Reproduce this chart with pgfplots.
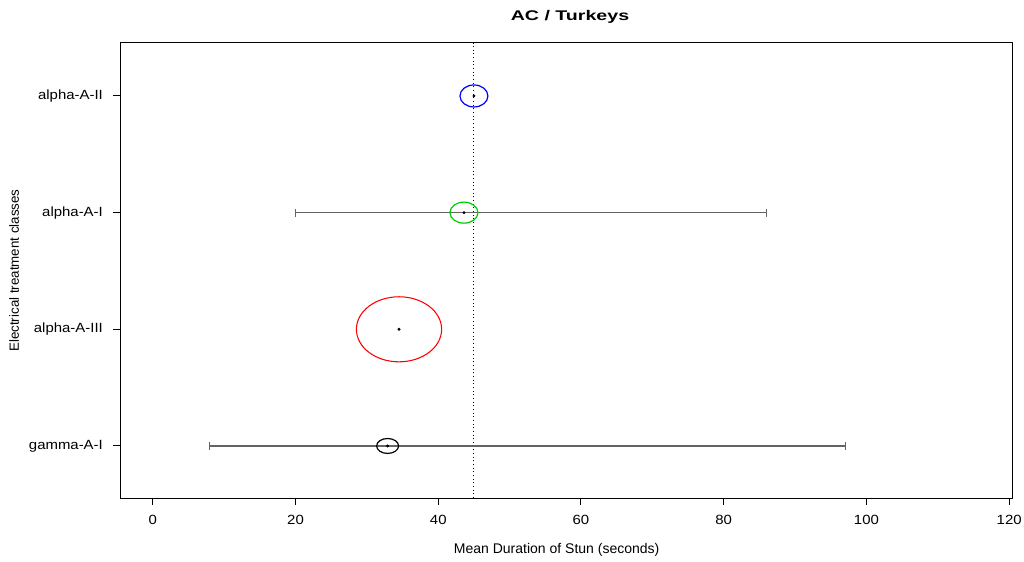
\documentclass[border=0pt]{standalone}
\usepackage{fontspec}
\setmainfont{Liberation Sans}
\usepackage{pgfplots}
\pgfplotsset{compat=1.18}
\definecolor{rblue}{RGB}{0,0,255}
\definecolor{rgreen}{RGB}{0,205,0}
\definecolor{rred}{RGB}{255,0,0}
\definecolor{ebar}{RGB}{100,100,100}
\begin{document}
\begin{tikzpicture}
\path[use as bounding box] (0pt,0pt) rectangle (768pt,420.75pt);
\begin{axis}[
  at={(90pt,47.25pt)}, anchor=south west,
  scale only axis, width=669pt, height=341.25pt,
  xmin=-4.6, xmax=120.4, ymin=0.554, ymax=4.454,
  xtick={0,20,...,120}, ytick={1,2,3,4},
  yticklabels={gamma-A-I,alpha-A-III,alpha-A-I,alpha-A-II},
  xtick pos=bottom, ytick pos=left, tick align=outside,
  major tick length=5pt,
  axis line style={line width=0.75pt},
  every tick/.style={black, line width=0.75pt},
  /pgf/number format/assume math mode=true,
  tick label style={font=\fontsize{10}{12}\selectfont, xscale=1.12},
  xticklabel style={yshift=-4.5pt},
  yticklabel style={xshift=-3.5pt},
  title={\bfseries AC / Turkeys},
  every axis title/.style={at={(axis description cs:0.5,1.0571)}, anchor=center, xshift=3pt, font=\fontsize{10.5}{12}\selectfont, xscale=1.4},
  xlabel={Mean Duration of Stun (seconds)},
  ylabel={Electrical treatment classes},
  every axis x label/.style={at={(axis description cs:0.5,-0.1143)}, anchor=center, xshift=-7pt, font=\fontsize{10.5}{12}\selectfont},
  every axis y label/.style={at={(axis description cs:-0.1188,0.5)}, anchor=center, rotate=90, font=\fontsize{10}{12}\selectfont},
  clip=false,
]
% dotted reference line
\addplot[black, dotted, line width=0.75pt] coordinates {(45,0.554) (45,4.454)};
% error bars
\addplot[draw=none, mark=none, forget plot,
  error bars/.cd, x dir=both, x explicit, error mark=|,
  error bar style={draw=ebar, line width=0.9pt},
  error mark options={draw=ebar, line width=0.75pt, mark size=3pt}]
  coordinates {(43.6,3) -= (23.6,0) += (42.4,0)
               (32.9,1) -= (24.9,0) += (64.1,0)};
% circles
\addplot[only marks, mark=o, rblue, mark size=8.25pt, mark options={xscale=1.27, line width=0.9pt}] coordinates {(45,4)};
\addplot[only marks, mark=o, rgreen, mark size=7.9pt, mark options={xscale=1.33, line width=0.9pt}] coordinates {(43.6,3)};
\addplot[only marks, mark=o, rred, mark size=24.4pt, mark options={xscale=1.31, line width=0.8pt}] coordinates {(34.5,2)};
\addplot[only marks, mark=o, black, mark size=5.6pt, mark options={xscale=1.47, line width=0.9pt}] coordinates {(32.9,1)};
% centre points
\addplot[only marks, mark=*, black, mark size=0.9pt] coordinates {(45,4) (43.6,3) (34.5,2) (32.9,1)};
\end{axis}
\end{tikzpicture}
\end{document}
